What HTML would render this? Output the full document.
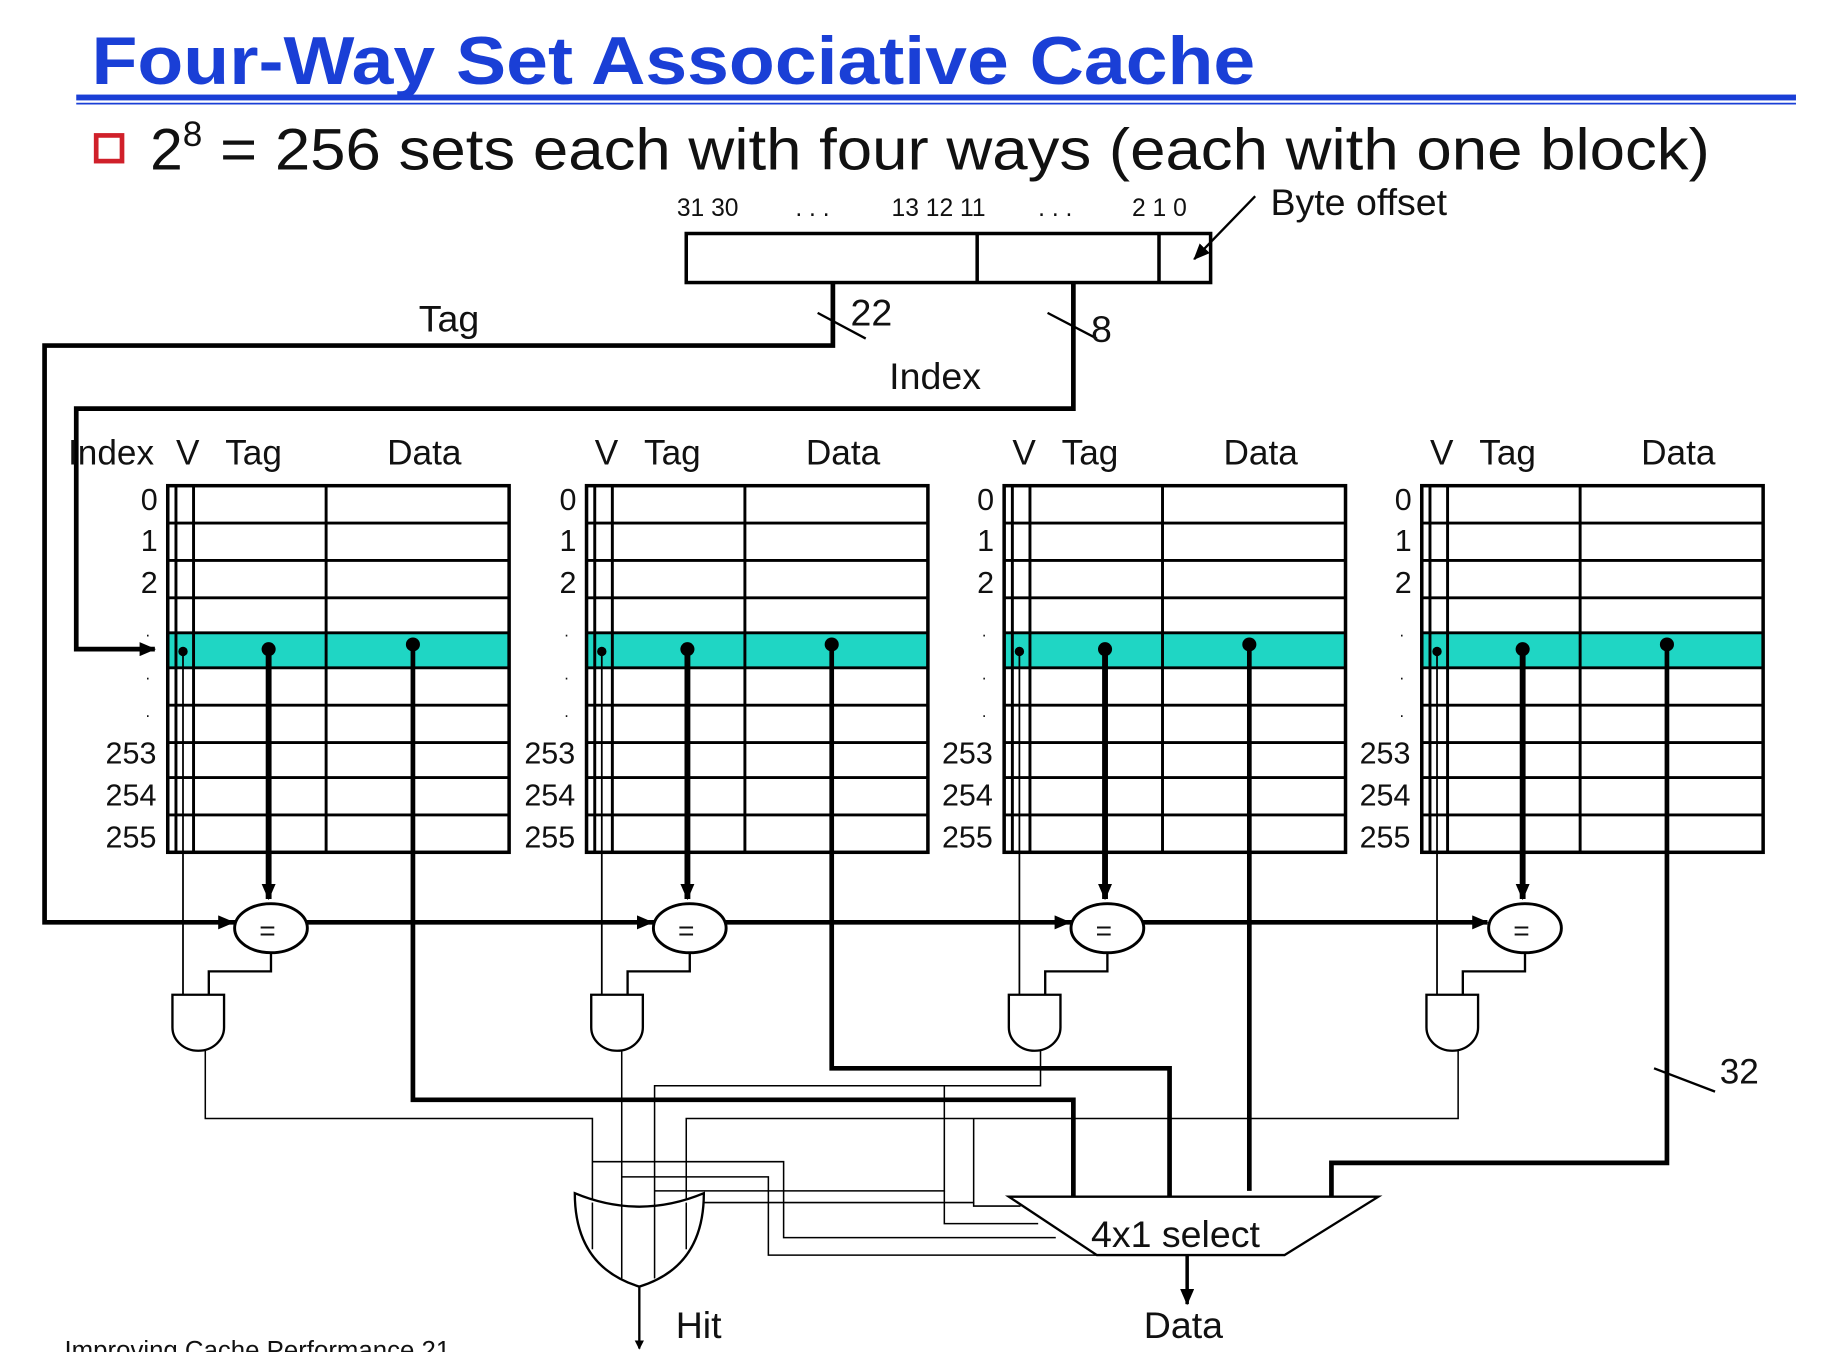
<!DOCTYPE html>
<html><head><meta charset="utf-8"><style>
html,body{margin:0;padding:0;background:#fff;}
svg{display:block;}
text{font-family:"Liberation Sans",Arial,sans-serif;fill:#111;}
</style></head><body>
<svg width="1830" height="1352" viewBox="0 0 1560 1158" preserveAspectRatio="none" xmlns="http://www.w3.org/2000/svg">
<defs>
<marker id="a" markerWidth="8" markerHeight="8" refX="7" refY="4" orient="auto" markerUnits="userSpaceOnUse"><path d="M0,0 L8,4 L0,8z" fill="#000"/></marker>
<marker id="b" markerWidth="14" markerHeight="12" refX="13" refY="6" orient="auto" markerUnits="userSpaceOnUse"><path d="M0,0 L14,6 L0,12z" fill="#000"/></marker>
</defs>
<text x="78" y="72" font-size="58" font-weight="bold" style="fill:#1a3fd6" textLength="992" lengthAdjust="spacingAndGlyphs">Four-Way Set Associative Cache</text>
<rect x="65" y="81" width="1466" height="5" fill="#1a3fd6"/>
<rect x="65" y="88" width="1466" height="1.5" fill="#1a3fd6"/>
<rect x="82" y="116" width="22" height="22" fill="none" stroke="#d0202a" stroke-width="4"/>
<text x="128" y="145" font-size="50">2<tspan font-size="30" dy="-20">8</tspan><tspan dy="20" textLength="1285" lengthAdjust="spacingAndGlyphs"> = 256 sets each with four ways (each with one block)</tspan></text>
<g font-size="21">
<text x="577" y="185">31 30</text><text x="678" y="185">. . .</text><text x="760" y="185">13  12  11</text><text x="885" y="185">. . .</text><text x="965" y="185">2   1   0</text>
</g>
<text x="1083" y="184" font-size="32">Byte offset</text>
<rect x="585" y="200" width="447" height="42" fill="none" stroke="#000" stroke-width="3"/>
<line x1="833" y1="200" x2="833" y2="242" stroke="#000" stroke-width="3"/>
<line x1="988" y1="200" x2="988" y2="242" stroke="#000" stroke-width="3"/>
<line x1="1070" y1="168" x2="1018" y2="222" stroke="#000" stroke-width="2" marker-end="url(#b)"/>
<polyline points="710,242 710,296 38,296 38,790 1268,790" fill="none" stroke="#000" stroke-width="4"/>
<line x1="697" y1="268" x2="738" y2="290" stroke="#000" stroke-width="2"/>
<text x="725" y="279" font-size="32">22</text>
<text x="357" y="284" font-size="32">Tag</text>
<polyline points="915,242 915,350 65,350 65,556 132,556" fill="none" stroke="#000" stroke-width="4" marker-end="url(#b)"/>
<line x1="893" y1="268" x2="935" y2="290" stroke="#000" stroke-width="2"/>
<text x="930" y="293" font-size="32">8</text>
<text x="758" y="333" font-size="32">Index</text>
<text x="58" y="398" font-size="30">Index</text>
<g id="tbl">
<g font-size="30">
<text x="150" y="398">V</text><text x="192" y="398">Tag</text><text x="330" y="398">Data</text>
</g>
<g font-size="26">
<text x="120" y="437">0</text><text x="120" y="472">1</text><text x="120" y="508">2</text>
<text x="90" y="654">253</text><text x="90" y="690">254</text><text x="90" y="726">255</text>
<text x="124" y="545" font-size="14">.</text><text x="124" y="582" font-size="14">.</text><text x="124" y="614" font-size="14">.</text>
</g>
<rect x="143" y="542" width="291" height="30" fill="#1fd6c4"/>
<rect x="143" y="416" width="291" height="314" fill="none" stroke="#000" stroke-width="3"/>
<g stroke="#000" stroke-width="2.5">
<line x1="143" y1="448" x2="434" y2="448"/><line x1="143" y1="480" x2="434" y2="480"/><line x1="143" y1="512" x2="434" y2="512"/>
<line x1="143" y1="542" x2="434" y2="542"/><line x1="143" y1="572" x2="434" y2="572"/><line x1="143" y1="604" x2="434" y2="604"/>
<line x1="143" y1="636" x2="434" y2="636"/><line x1="143" y1="666" x2="434" y2="666"/><line x1="143" y1="698" x2="434" y2="698"/>
<line x1="150" y1="416" x2="150" y2="730"/><line x1="165" y1="416" x2="165" y2="730"/><line x1="278" y1="416" x2="278" y2="730"/>
</g>
<circle cx="229" cy="556" r="6"/><circle cx="352" cy="552" r="6"/><circle cx="156" cy="558" r="4"/>
<line x1="229" y1="556" x2="229" y2="770" stroke="#000" stroke-width="5" marker-end="url(#b)"/>
<line x1="156" y1="558" x2="156" y2="852" stroke="#000" stroke-width="1.5"/>
<ellipse cx="231" cy="795" rx="31" ry="21" fill="#fff" stroke="#000" stroke-width="2.5"/>
<text x="221" y="805" font-size="24">=</text>
<line x1="185" y1="790" x2="199" y2="790" stroke="#000" stroke-width="2" marker-end="url(#b)"/>
<polyline points="231,816 231,832 178,832 178,852" fill="none" stroke="#000" stroke-width="2"/>
<path d="M147,852 L191,852 L191,880 A22,20 0 0 1 147,880 Z" fill="#fff" stroke="#000" stroke-width="2"/>
</g>
<use href="#tbl" x="357"/><use href="#tbl" x="713"/><use href="#tbl" x="1069"/>
<g fill="none" stroke="#000" stroke-width="4">
<polyline points="352,552 352,942 915,942 915,1025"/>
<polyline points="709,552 709,915 997,915 997,1025"/>
<polyline points="1065,552 1065,1020"/>
<polyline points="1421,552 1421,996 1135,996 1135,1025"/>
</g>
<line x1="1410" y1="915" x2="1462" y2="935" stroke="#000" stroke-width="2"/>
<text x="1466" y="928" font-size="30">32</text>
<g fill="none" stroke="#000" stroke-width="1.3">
<polyline points="175,900 175,958 505,958 505,1030"/>
<polyline points="530,900 530,1030"/>
<polyline points="887,900 887,930 558,930 558,1030"/>
<polyline points="1243,900 1243,958 585,958 585,1030"/>
<polyline points="505,995 668,995 668,1060 900,1060"/>
<polyline points="530,1008 655,1008 655,1075 935,1075"/>
<polyline points="558,1020 805,1020 805,930"/>
<polyline points="805,1020 805,1048 885,1048"/>
<polyline points="585,1030 830,1030 830,958"/>
<polyline points="830,1030 830,1033 870,1033"/>
</g>
<path d="M490,1022 Q545,1045 600,1022 Q600,1085 545,1102 Q490,1085 490,1022 Z" fill="#fff" stroke="#000" stroke-width="2"/>
<g stroke="#000" stroke-width="1.3"><line x1="505" y1="1030" x2="505" y2="1070"/><line x1="530" y1="1030" x2="530" y2="1095"/><line x1="558" y1="1030" x2="558" y2="1095"/><line x1="585" y1="1030" x2="585" y2="1070"/></g>
<line x1="545" y1="1102" x2="545" y2="1155" stroke="#000" stroke-width="2" marker-end="url(#a)"/>
<text x="576" y="1146" font-size="32">Hit</text>
<path d="M860,1025 L1175,1025 L1095,1075 L935,1075 Z" fill="#fff" stroke="#000" stroke-width="2"/>
<text x="930" y="1068" font-size="32">4x1 select</text>
<line x1="1012" y1="1075" x2="1012" y2="1117" stroke="#000" stroke-width="3" marker-end="url(#b)"/>
<text x="975" y="1146" font-size="32">Data</text>
<text x="55" y="1164" font-size="22">Improving Cache Performance 21</text>
</svg>
</body></html>
